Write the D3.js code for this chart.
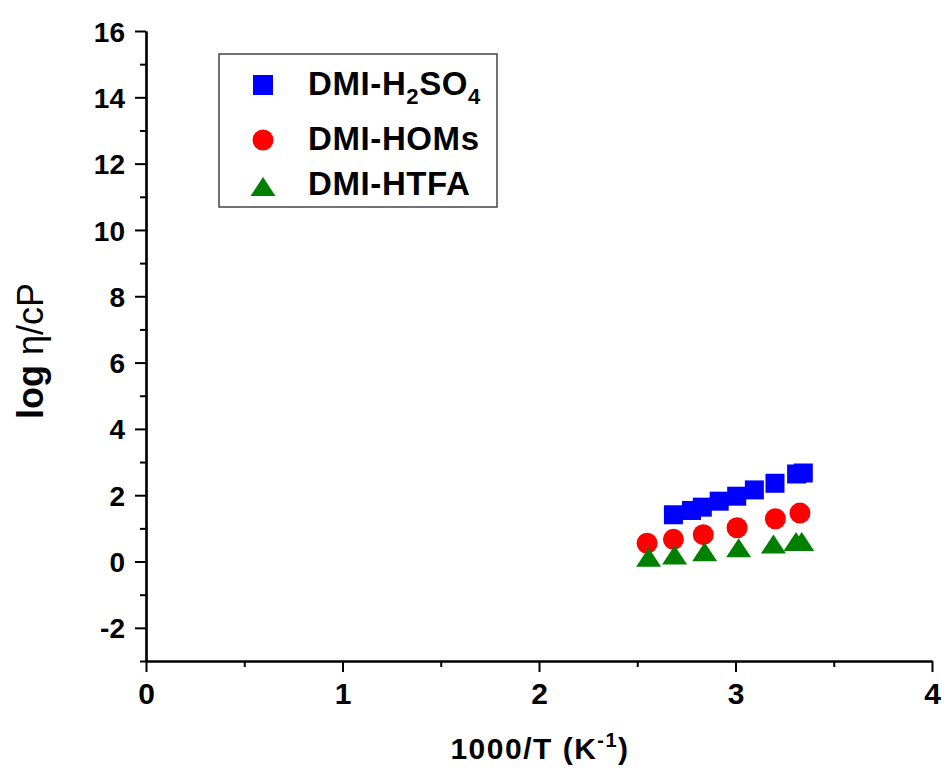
<!DOCTYPE html>
<html><head><meta charset="utf-8">
<script src="https://cdn.jsdelivr.net/npm/d3@7"></script>
<style>body{margin:0;background:#fff;} text{font-family:"Liberation Sans",Arial,sans-serif;}</style>
</head><body>
<svg id="c" width="948" height="782"></svg>
<script>
const h2so4X = [2.684, 2.776, 2.831, 2.917, 3.006, 3.096, 3.201, 3.311, 3.345];
const h2so4Y = [1.41, 1.54, 1.64, 1.82, 1.97, 2.16, 2.36, 2.64, 2.67];
const homsX = [2.550, 2.684, 2.836, 3.008, 3.203, 3.328];
const homsY = [0.55, 0.67, 0.81, 1.02, 1.29, 1.46];
const htfaX = [2.558, 2.690, 2.843, 3.016, 3.193, 3.308, 3.337];
const htfaY = [0.08, 0.15, 0.25, 0.37, 0.48, 0.56, 0.56];
const xTicks = [0, 1, 2, 3, 4];
const xMinor = [0.5, 1.5, 2.5, 3.5];
const yTicks = [-2, 0, 2, 4, 6, 8, 10, 12, 14, 16];
const yMinor = [-3, -1, 1, 3, 5, 7, 9, 11, 13, 15];

const svg = d3.select("#c");
const x = d3.scaleLinear().domain([0, 4]).range([146, 932]);
const y = d3.scaleLinear().domain([-3, 16]).range([661, 31]);
const fmt = (d) => String(d);

// Y axis
svg.append("g").attr("class", "ya").attr("transform", `translate(${x(0)},0)`)
  .call(d3.axisLeft(y).tickValues(yTicks).tickSize(11).tickSizeOuter(0).tickPadding(10).tickFormat(fmt));
svg.append("g").attr("transform", `translate(${x(0)},0)`)
  .call(d3.axisLeft(y).tickValues(yMinor).tickSize(6).tickSizeOuter(0).tickFormat(""));
// X axis
svg.append("g").attr("class", "xa").attr("transform", `translate(0,${y(-3)})`)
  .call(d3.axisBottom(x).tickValues(xTicks).tickSize(11).tickSizeOuter(0).tickPadding(10).tickFormat(fmt));
svg.append("g").attr("transform", `translate(0,${y(-3)})`)
  .call(d3.axisBottom(x).tickValues(xMinor).tickSize(6).tickSizeOuter(0).tickFormat(""));
svg.selectAll(".domain").attr("stroke", "#000").attr("stroke-width", 2.2);
svg.selectAll(".tick line").attr("stroke", "#000").attr("stroke-width", 2);
svg.selectAll(".tick text").attr("font-weight", "bold")
  .attr("font-family", "'Liberation Sans', Arial, sans-serif").attr("fill", "#000");
svg.selectAll(".ya .tick text").attr("font-size", 28).attr("dy", "0.36em");
svg.selectAll(".xa .tick text").attr("font-size", 30).attr("dy", "0.72em");

// Markers
const g = svg.append("g");
const sq = 19;
g.selectAll("rect.h").data(h2so4X).enter().append("rect")
  .attr("x", (d) => x(d) - sq / 2).attr("y", (d, i) => y(h2so4Y[i]) - sq / 2)
  .attr("width", sq).attr("height", sq).attr("fill", "#0000ff");
g.selectAll("circle.o").data(homsX).enter().append("circle")
  .attr("cx", (d) => x(d)).attr("cy", (d, i) => y(homsY[i])).attr("r", 10.5).attr("fill", "#ff0000");
const tri = (cx, cy) => `M${cx},${cy - 11}L${cx + 12.5},${cy + 8}L${cx - 12.5},${cy + 8}Z`;
g.selectAll("path.t").data(htfaX).enter().append("path")
  .attr("d", (d, i) => tri(x(d), y(htfaY[i]))).attr("fill", "#008000");

// Legend
const lfs = 33;
const lg = svg.append("g");
lg.append("rect").attr("x", 219).attr("y", 54).attr("width", 278).attr("height", 153)
  .attr("fill", "#fff").attr("stroke", "#444").attr("stroke-width", 1.5);
lg.append("rect").attr("x", 263 - 10).attr("y", 85 - 10).attr("width", 20).attr("height", 20).attr("fill", "#0000ff");
lg.append("circle").attr("cx", 263).attr("cy", 140).attr("r", 10.5).attr("fill", "#ff0000");
lg.append("path").attr("d", tri(263, 188)).attr("fill", "#008000");
const lt = lg.append("text").attr("x", 308).attr("y", 95).attr("font-size", lfs).attr("font-weight", "bold").attr("letter-spacing", 0.6);
lt.append("tspan").text("DMI-H");
lt.append("tspan").attr("font-size", 22).attr("dy", 9).text("2");
lt.append("tspan").attr("dy", -9).text("SO");
lt.append("tspan").attr("font-size", 22).attr("dy", 9).text("4");
lg.append("text").attr("x", 308).attr("y", 150).attr("font-size", lfs).attr("font-weight", "bold").attr("letter-spacing", 0.6).text("DMI-HOMs");
lg.append("text").attr("x", 308).attr("y", 195).attr("font-size", lfs).attr("font-weight", "bold").attr("letter-spacing", 0.6).text("DMI-HTFA");

// Axis titles
const xt = svg.append("text").attr("x", 540).attr("y", 759).attr("text-anchor", "middle")
  .attr("font-size", 30).attr("font-weight", "bold").attr("letter-spacing", 1.5);
xt.append("tspan").text("1000/T (K");
xt.append("tspan").attr("font-size", 20).attr("dy", -12).text("-1");
xt.append("tspan").attr("dy", 12).text(")");

const yt = svg.append("text").attr("transform", "translate(43,351) rotate(-90)").attr("text-anchor", "middle")
  .attr("font-size", 36);
yt.append("tspan").attr("font-weight", "bold").text("log ");
yt.append("tspan").text("η/cP");
</script>
</body></html>
